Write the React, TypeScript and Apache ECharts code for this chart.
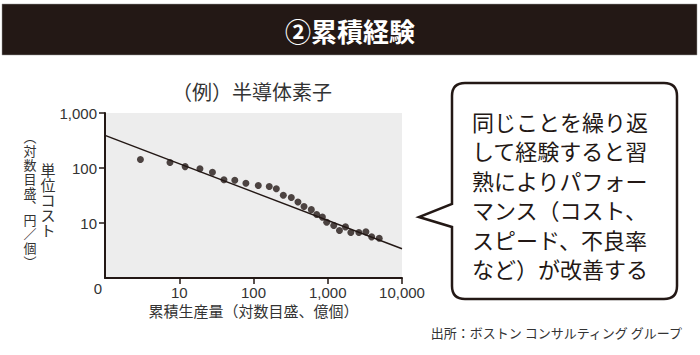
import React, { useEffect, useRef } from "react";
import * as echarts from "echarts";

// Cumulative production (log, 億個) and unit cost (log, 円/個)
const prodValues = [3.0, 7.5, 12, 19, 28, 40, 56, 79, 116, 163, 203, 252, 323, 397, 479, 601, 710, 847, 968, 1205, 1438, 1734, 2046, 2625, 3265, 3899, 4934];
const costValues = [143, 126, 106, 97, 84, 61, 60, 53, 48, 46, 42, 32, 29, 24, 20, 17.5, 14.3, 12.8, 10.3, 9.0, 7.3, 8.5, 6.7, 6.7, 6.9, 5.6, 5.3];
const trendX = [1, 10000];
const trendY = [392, 3.4];
const xTickValues = [10, 100, 1000, 10000];
const yTickValues = [10, 100, 1000];
const originLabel = "0";

const titleText = "②累積経験";
const subtitleText = "（例）半導体素子";
const xAxisName = "累積生産量（対数目盛、億個）";
const yNameInner = ["単", "位", "コ", "ス", "ト"];
const yNameOuter = ["︵", "対", "数", "目", "盛", "︑", "円", "／", "個", "︶"];
const bubbleLines = [
  "同じことを繰り返",
  "して経験すると習",
  "熟によりパフォー",
  "マンス（コスト、",
  "スピード、不良率",
  "など）が改善する",
];
const sourceText = "出所：ボストン コンサルティング グループ";

const JP = '"Noto Sans CJK JP", "Noto Sans", sans-serif';
const NUM = '"Liberation Sans", Arial, sans-serif';
const INK = "#231815";

const bubblePath =
  "M465 83 H664 Q677 83 677 96 V286 Q677 299 664 299 H465 Q452 299 452 286 V227 L419 217 L452 204 V96 Q452 83 465 83 Z";
echarts.graphic.registerShape("bubble", echarts.graphic.extendPath(bubblePath, {}) as any);

const fmt = (v: number) => Math.round(v).toLocaleString("en-US");

const verticalChars = (chars: string[], x: number, y0: number, pitch: number, size: number) =>
  chars.map((c, i) => ({
    type: "text",
    x,
    y: y0 + i * pitch + pitch / 2,
    style: { text: c, fill: "#333", font: `${size}px ${JP}`, align: "center", verticalAlign: "middle" },
  }));

export default function App() {
  const ref = useRef<HTMLDivElement>(null);
  useEffect(() => {
    if (!ref.current) return;
    const chart = echarts.init(ref.current, null, { renderer: "svg" });
    chart.setOption({
      animation: false,
      backgroundColor: "#ffffff",
      grid: {
        left: 105,
        right: 298,
        top: 113,
        bottom: 77,
        show: true,
        backgroundColor: "#ededed",
        borderWidth: 0,
      },
      xAxis: {
        type: "log",
        logBase: 10,
        min: 1,
        max: 10000,
        name: xAxisName,
        nameLocation: "middle",
        nameGap: 25,
        nameTextStyle: { fontFamily: JP, fontSize: 15, color: "#333", verticalAlign: "top" },
        axisLine: { lineStyle: { color: INK, width: 2 } },
        axisTick: { show: true, length: 6, lineStyle: { color: INK, width: 1.5 }, customValues: xTickValues },
        axisLabel: { fontFamily: NUM, fontSize: 15, color: "#333", margin: 7, formatter: fmt, customValues: xTickValues },
        splitLine: { show: false },
      },
      yAxis: {
        type: "log",
        logBase: 10,
        min: 1,
        max: 1000,
        axisLine: { show: true, lineStyle: { color: INK, width: 2 } },
        axisTick: { show: true, length: 6, lineStyle: { color: INK, width: 1.5 }, customValues: yTickValues },
        axisLabel: { fontFamily: NUM, fontSize: 15, color: "#333", margin: 8, formatter: fmt, customValues: yTickValues },
        splitLine: { show: false },
      },
      series: [
        {
          type: "line",
          data: trendX.map((x, i) => [x, trendY[i]]),
          symbol: "none",
          lineStyle: { color: INK, width: 1.5 },
          silent: true,
        },
        {
          type: "scatter",
          data: prodValues.map((x, i) => [x, costValues[i]]),
          symbolSize: 7,
          itemStyle: { color: INK },
        },
      ],
      graphic: [
        { type: "rect", shape: { x: 2, y: 4, width: 695, height: 51 }, style: { fill: INK, stroke: "#9a9a9a", lineWidth: 0.5 } },
        {
          type: "text",
          x: 350,
          y: 30,
          style: { text: titleText, fill: "#ffffff", font: `bold 26px ${JP}`, align: "center", verticalAlign: "middle" },
        },
        {
          type: "text",
          x: 252,
          y: 91,
          style: { text: subtitleText, fill: "#333", font: `20px ${JP}`, align: "center", verticalAlign: "middle" },
        },
        ...verticalChars(yNameInner, 48, 162, 15, 15),
        ...verticalChars(yNameOuter, 30, 130, 13.8, 13),
        {
          type: "text",
          x: 98,
          y: 288,
          style: { text: originLabel, fill: "#333", font: `15px ${NUM}`, align: "center", verticalAlign: "middle" },
        },
        {
          type: "bubble",
          x: 0,
          y: 0,
          style: { fill: "#ffffff", stroke: INK, lineWidth: 2.5, lineJoin: "miter" },
        },
        ...bubbleLines.map((line, i) => ({
          type: "text",
          x: 472,
          y: 121 + i * 29.4,
          style: { text: line, fill: INK, font: `22px ${JP}`, align: "left", verticalAlign: "middle" },
        })),
        {
          type: "text",
          x: 682,
          y: 332,
          style: { text: sourceText, fill: "#333", font: `13px ${JP}`, align: "right", verticalAlign: "middle" },
        },
      ],
    });
    return () => chart.dispose();
  }, []);
  return <div ref={ref} style={{ position: "fixed", left: 0, top: 0, width: 700, height: 355 }} />;
}
